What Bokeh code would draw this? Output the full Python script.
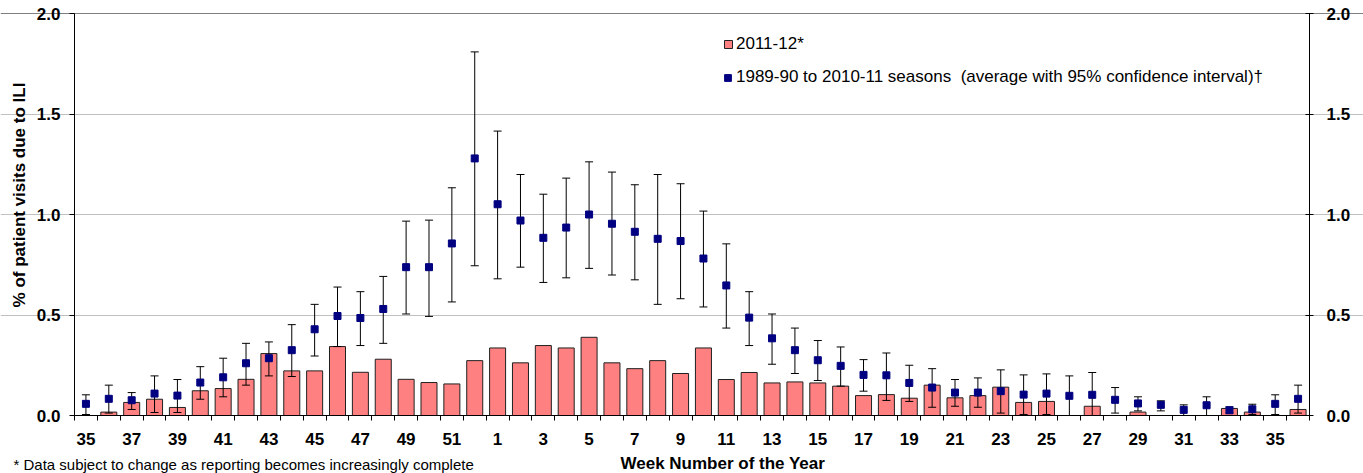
import math
from bokeh.plotting import figure
from bokeh.models import (Range1d, LinearAxis, FixedTicker, PrintfTickFormatter,
                          Label, Legend, LegendItem, ColumnDataSource, Grid)
from bokeh.embed import file_html
from bokeh.resources import INLINE

NAN = float("nan")

# ---------------- data ----------------
weeks = list(range(35, 53)) + list(range(1, 37))

season_2011_12 = [
    NAN, 0.017, 0.065, 0.081, 0.040, 0.123, 0.134, 0.180, 0.308, 0.222,
    0.222, 0.343, 0.215, 0.280, 0.180, 0.164, 0.157, 0.273,
    0.336, 0.262, 0.348, 0.336, 0.389, 0.262, 0.233, 0.273, 0.209, 0.336,
    0.179, 0.214, 0.162, 0.167, 0.162, 0.146, 0.099, 0.104, 0.086, 0.151,
    0.088, 0.099, 0.141, 0.065, 0.070, NAN, 0.046, NAN, 0.017, NAN,
    NAN, NAN, 0.035, 0.017, NAN, 0.030,
]

hist_avg = [
    0.058, 0.083, 0.076, 0.109, 0.099, 0.164, 0.190, 0.260, 0.285, 0.325,
    0.429, 0.495, 0.485, 0.530, 0.738, 0.738, 0.856, 1.279,
    1.051, 0.970, 0.884, 0.935, 1.000, 0.954, 0.914, 0.879, 0.868, 0.781,
    0.647, 0.487, 0.384, 0.325, 0.275, 0.247, 0.202, 0.200, 0.162, 0.139,
    0.114, 0.114, 0.121, 0.104, 0.109, 0.098, 0.103, 0.078, 0.060, 0.053,
    0.028, 0.051, 0.026, 0.031, 0.058, 0.083,
]

hist_ci_high = [
    0.103, 0.151, 0.114, 0.197, 0.179, 0.243, 0.285, 0.359, 0.366, 0.452,
    0.553, 0.639, 0.616, 0.692, 0.967, 0.972, 1.133, 1.809,
    1.415, 1.199, 1.101, 1.181, 1.262, 1.211, 1.148, 1.199, 1.153, 1.017,
    0.854, 0.616, 0.505, 0.435, 0.373, 0.341, 0.278, 0.311, 0.250, 0.233,
    0.179, 0.187, 0.227, 0.202, 0.207, 0.197, 0.214, 0.139, 0.093, 0.073,
    0.053, 0.093, 0.043, 0.056, 0.103, 0.151,
]

hist_ci_low = [
    0.005, 0.012, 0.030, 0.015, 0.015, 0.081, 0.093, 0.151, 0.197, 0.194,
    0.296, 0.343, 0.348, 0.359, 0.505, 0.493, 0.565, 0.745,
    0.680, 0.738, 0.662, 0.685, 0.732, 0.699, 0.675, 0.553, 0.581, 0.540,
    0.435, 0.348, 0.255, 0.209, 0.174, 0.146, 0.121, 0.075, 0.070, 0.041,
    0.046, 0.041, 0.012, 0.005, 0.005, 0.000, 0.000, 0.012, 0.023, 0.023,
    0.000, 0.000, 0.012, 0.005, 0.005, 0.012,
]

y_ticks = [0.0, 0.5, 1.0, 1.5, 2.0]
legend_labels = ["2011-12*",
                 "1989-90 to 2010-11 seasons  (average with 95% confidence interval)\u2020"]
x_title = "Week Number of the Year"
y_title = "% of patient visits due to ILI"
footnote = "* Data subject to change as reporting becomes increasingly  complete"

# ---------------- layout (pixels) ----------------
W, H = 1363, 473
PL, PR, PT, PB = 74, 1309, 13, 415          # plot area edges on the canvas
n = len(weeks)
UX = (PR - PL) / n                           # pixels per week
UY = (PB - PT) / (y_ticks[-1] - y_ticks[0])  # pixels per unit


def dx(sx):
    return (sx - PL) / UX - 0.5


def dy(sy):
    return (PB - sy) / UY


FONT = "Liberation Sans"

idx = list(range(n))
src = ColumnDataSource(dict(x=idx, week=weeks, bar=season_2011_12,
                            avg=hist_avg, lo=hist_ci_low, hi=hist_ci_high))

p = figure(width=W, height=H, output_backend="svg", toolbar_location=None,
           x_range=Range1d(dx(0), dx(W)), y_range=Range1d(dy(H), dy(0)),
           x_axis_location=None, y_axis_location=None,
           min_border_left=0, min_border_right=0, min_border_top=0,
           min_border_bottom=0)
p.center = []          # drop the default grids
p.background_fill_color = "white"
p.border_fill_color = "white"
p.outline_line_color = None

# grid lines
p.add_layout(Grid(dimension=1, ticker=FixedTicker(ticks=y_ticks[1:-1]),
                  bounds=(-0.5, n - 0.5), grid_line_color="#C0C0C0"))
p.add_layout(Grid(dimension=1, ticker=FixedTicker(ticks=y_ticks[-1:]),
                  bounds=(-0.5, n - 0.5), grid_line_color="#808080"))

# bars
bars = p.vbar(x="x", top="bar", bottom=0, width=0.7, source=src,
              fill_color="#FF8080", line_color="#202020", line_width=1)

# error bars
p.segment(x0="x", y0="lo", x1="x", y1="hi", source=src,
          line_color="black", line_width=1)
p.scatter(x="x", y="hi", source=src, marker="dash", size=8,
          line_color="black", line_width=1)
p.scatter(x="x", y="lo", source=src, marker="dash", size=8,
          line_color="black", line_width=1)

# average markers
marks = p.scatter(x="x", y="avg", source=src, marker="square", size=7,
                  fill_color="#000080", line_color="#000080")

# x axis (drawn at y = 0)
xa = LinearAxis(fixed_location=0, bounds=(-0.5, n - 0.5))
major = [i for i in idx if i % 2 == 0]
xa.ticker = FixedTicker(ticks=major, minor_ticks=[i - 0.5 for i in range(n + 1)])
xa.major_label_overrides = {i: str(weeks[i]) for i in major}
xa.major_tick_out = 0
xa.major_tick_in = 0
xa.minor_tick_out = 5
xa.minor_tick_in = 0
xa.minor_tick_line_color = "black"
xa.axis_line_color = "black"
xa.major_label_standoff = 12
xa.major_label_text_font = FONT
xa.major_label_text_font_size = "17px"
xa.major_label_text_font_style = "bold"
xa.major_label_text_color = "black"
p.add_layout(xa, "below")


def style_y(ax, tin, tout, standoff):
    ax.ticker = FixedTicker(ticks=y_ticks)
    ax.formatter = PrintfTickFormatter(format="%.1f")
    ax.major_tick_in = tin
    ax.major_tick_out = tout
    ax.minor_tick_line_color = None
    ax.major_tick_line_color = "black"
    ax.axis_line_color = "black"
    ax.major_label_standoff = standoff
    ax.major_label_text_font = FONT
    ax.major_label_text_font_size = "17px"
    ax.major_label_text_font_style = "bold"
    ax.major_label_text_color = "black"


ly = LinearAxis(fixed_location=-0.5, bounds=(y_ticks[0], y_ticks[-1]))
style_y(ly, 0, 5, 9)
p.add_layout(ly, "left")
ry = LinearAxis(fixed_location=n - 0.5, bounds=(y_ticks[0], y_ticks[-1]))
style_y(ry, 4, 4, 13)
p.add_layout(ry, "right")

# legends
leg1 = Legend(items=[LegendItem(label=legend_labels[0], renderers=[bars])],
              location=(723, H - 54))
leg2 = Legend(items=[LegendItem(label=legend_labels[1], renderers=[marks])],
              location=(719, H - 87))
for lg, gw, so in ((leg1, 10, 3), (leg2, 17, 0)):
    lg.glyph_width = gw
    lg.glyph_height = gw
    lg.label_standoff = so
    lg.padding = 0
    lg.margin = 0
    lg.spacing = 0
    lg.label_height = 20
    lg.border_line_color = None
    lg.background_fill_alpha = 0
    lg.label_text_font = FONT
    lg.label_text_font_size = "17px"
    lg.label_text_color = "black"
    lg.label_text_baseline = "middle"
    p.add_layout(lg, "center")

# axis titles and footnote
p.add_layout(Label(x=dx(19), y=dy(194.5), text=y_title,
                   angle=math.pi / 2, text_align="center", text_baseline="middle",
                   text_font=FONT, text_font_size="17px", text_font_style="bold",
                   text_color="black"))
p.add_layout(Label(x=dx(620), y=dy(462.5), text=x_title,
                   text_align="left", text_baseline="middle",
                   text_font=FONT, text_font_size="17px", text_font_style="bold",
                   text_color="black"))
p.add_layout(Label(x=dx(13), y=dy(455), text=footnote,
                   text_align="left", text_baseline="top",
                   text_font=FONT, text_font_size="15px",
                   text_color="black"))

open("out.html", "w").write(file_html(p, INLINE))
